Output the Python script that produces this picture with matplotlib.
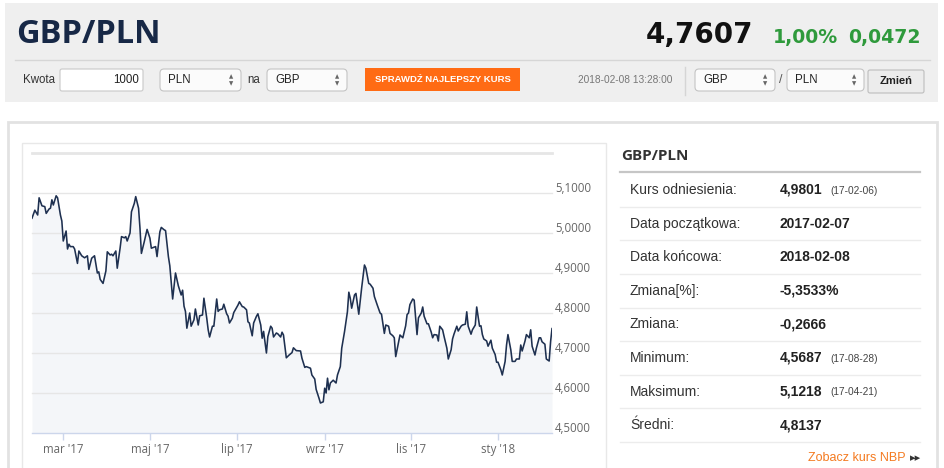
import numpy as np
import matplotlib
matplotlib.use("Agg")
import matplotlib.pyplot as plt
from matplotlib.patches import Rectangle, FancyBboxPatch
from matplotlib.transforms import ScaledTranslation

# ---------------- data ----------------
start_date = "2017-02-07"
end_date = "2018-02-08"
day_offsets = [
    0, 2, 4, 5, 7, 9, 10, 12, 13, 14, 15, 17, 18, 20, 21, 22, 24, 25, 26, 27,
    29, 30, 32, 33, 35, 37, 39, 40, 42, 44, 46, 47, 48, 50, 52, 53, 55, 56, 57, 59,
    60, 62, 63, 65, 66, 67, 69, 70, 72, 73, 75, 76, 77, 79, 81, 83, 84, 87, 88, 90,
    91, 93, 94, 96, 97, 99, 101, 103, 105, 106, 107, 108, 109, 111, 112, 114, 115, 117, 118, 120,
    121, 123, 124, 125, 127, 128, 130, 131, 132, 134, 135, 137, 138, 139, 141, 142, 144, 145, 146, 148,
    149, 151, 152, 153, 155, 156, 158, 159, 161, 162, 163, 165, 166, 168, 169, 170, 172, 173, 175, 176,
    177, 179, 181, 183, 184, 186, 189, 190, 192, 193, 196, 197, 199, 200, 202, 203, 205, 206, 207, 208,
    209, 210, 212, 214, 215, 217, 218, 220, 222, 223, 224, 225, 227, 228, 230, 232, 233, 234, 235, 237,
    238, 240, 241, 243, 245, 246, 248, 249, 251, 252, 254, 255, 256, 258, 259, 261, 263, 264, 265, 266,
    268, 269, 271, 272, 274, 275, 276, 278, 279, 281, 282, 283, 285, 286, 287, 289, 290, 292, 293, 295,
    296, 297, 299, 300, 302, 303, 305, 306, 307, 309, 310, 312, 313, 315, 316, 317, 318, 320, 321, 323,
    324, 326, 327, 328, 330, 331, 333, 334, 335, 337, 338, 340, 341, 343, 344, 345, 347, 348, 350, 351,
    352, 354, 355, 357, 358, 359, 361, 362, 364, 365, 366,
]
rates = [
    5.037, 5.057, 5.045, 5.088, 5.068, 5.066, 5.049, 5.060, 5.062, 5.083, 5.070, 5.093, 5.088, 5.045, 5.030, 4.980, 5.005, 4.960, 4.972, 4.966,
    4.966, 4.960, 4.924, 4.955, 4.943, 4.938, 4.943, 4.909, 4.937, 4.943, 4.900, 4.903, 4.884, 4.874, 4.905, 4.953, 4.945, 4.947, 4.943, 4.955,
    4.912, 4.962, 4.991, 4.988, 4.991, 4.980, 5.000, 5.053, 5.074, 5.091, 5.062, 5.012, 4.949, 4.978, 5.009, 4.987, 4.962, 4.966, 4.941, 5.003,
    5.014, 5.008, 5.006, 4.941, 4.918, 4.835, 4.900, 4.868, 4.845, 4.857, 4.817, 4.804, 4.762, 4.800, 4.767, 4.783, 4.810, 4.770, 4.793, 4.795,
    4.837, 4.787, 4.758, 4.740, 4.767, 4.767, 4.835, 4.804, 4.808, 4.810, 4.822, 4.798, 4.792, 4.775, 4.787, 4.801, 4.814, 4.820, 4.828, 4.816,
    4.815, 4.808, 4.778, 4.775, 4.743, 4.775, 4.792, 4.798, 4.770, 4.737, 4.754, 4.700, 4.741, 4.767, 4.762, 4.740, 4.750, 4.748, 4.740, 4.752,
    4.745, 4.688, 4.695, 4.701, 4.713, 4.706, 4.705, 4.687, 4.664, 4.666, 4.662, 4.645, 4.635, 4.609, 4.587, 4.575, 4.578, 4.612, 4.600, 4.637,
    4.608, 4.625, 4.632, 4.625, 4.645, 4.666, 4.712, 4.754, 4.803, 4.852, 4.837, 4.812, 4.845, 4.849, 4.797, 4.862, 4.891, 4.920, 4.912, 4.874,
    4.872, 4.862, 4.841, 4.820, 4.800, 4.797, 4.749, 4.770, 4.767, 4.749, 4.743, 4.738, 4.691, 4.727, 4.745, 4.738, 4.768, 4.796, 4.800, 4.821,
    4.835, 4.832, 4.746, 4.788, 4.800, 4.815, 4.792, 4.773, 4.773, 4.752, 4.738, 4.746, 4.745, 4.730, 4.767, 4.758, 4.742, 4.712, 4.685, 4.708,
    4.735, 4.747, 4.767, 4.755, 4.767, 4.770, 4.772, 4.803, 4.767, 4.747, 4.758, 4.770, 4.815, 4.767, 4.768, 4.746, 4.735, 4.730, 4.717, 4.732,
    4.712, 4.696, 4.677, 4.677, 4.658, 4.645, 4.679, 4.720, 4.746, 4.708, 4.679, 4.679, 4.685, 4.685, 4.720, 4.705, 4.730, 4.746, 4.738, 4.758,
    4.717, 4.695, 4.712, 4.738, 4.738, 4.728, 4.722, 4.685, 4.680, 4.728, 4.761,
]
x_tick_dates = ["2017-03-01", "2017-05-01", "2017-07-01", "2017-09-01", "2017-11-01", "2018-01-01"]
x_tick_labels = ["mar '17", "maj '17", "lip '17", "wrz '17", "lis '17", "sty '18"]
y_ticks = [4.5, 4.6, 4.7, 4.8, 4.9, 5.0, 5.1, 5.2]
y_tick_labels = ["4,5000", "4,6000", "4,7000", "4,8000", "4,9000", "5,0000", "5,1000", ""]

pair_name = "GBP/PLN"
last_rate = "4,7607"
change_pct = "1,00%"
change_abs = "0,0472"
amount = "1000"
from_currency = "PLN"
to_currency = "GBP"
timestamp = "2018-02-08 13:28:00"
base_currency = "GBP"
quote_currency = "PLN"

stat_labels = ["Kurs odniesienia:", "Data początkowa:", "Data końcowa:", "Zmiana[%]:",
               "Zmiana:", "Minimum:", "Maksimum:", "Średni:"]
stat_values = ["4,9801", "2017-02-07", "2018-02-08", "-5,3533%",
               "-0,2666", "4,5687", "5,1218", "4,8137"]
stat_dates = ["(17-02-06)", "", "", "", "", "(17-08-28)", "(17-04-21)", ""]

# ---------------- figure ----------------
W, H = 945, 468
fig = plt.figure(figsize=(W / 100, H / 100), dpi=100)
fig.patch.set_facecolor("white")

bg = fig.add_axes([0, 0, 1, 1], zorder=0)
bg.set_xlim(0, W)
bg.set_ylim(H, 0)
bg.axis("off")

SANS = ["Liberation Sans", "DejaVu Sans"]
OPEN = ["Open Sans", "DejaVu Sans"]

# header band
bg.add_patch(Rectangle((5, 3), 933, 99, fc="#efefef", ec="none"))
bg.plot([15, 930], [60, 60], color="#d6d6d6", lw=1)
bg.text(16, 43, pair_name, family=OPEN, weight="bold", fontsize=23.5,
        color="#172846", va="baseline", ha="left")
bg.text(646, 43, last_rate, family=["DejaVu Sans"], weight="bold", fontsize=20,
        color="#111111", va="baseline", ha="left")
bg.text(773, 43, change_pct, family=["DejaVu Sans"], weight="bold", fontsize=13.6,
        color="#2f9a3c", va="baseline", ha="left")
bg.text(848, 43, change_abs, family=["DejaVu Sans"], weight="bold", fontsize=13.6,
        color="#2f9a3c", va="baseline", ha="left")

# form row
bg.text(23, 80, "Kwota", family=SANS, fontsize=8.3, color="#333333", va="center")
bg.add_patch(FancyBboxPatch((60, 69), 83, 22, boxstyle="round,pad=0,rounding_size=2",
                            fc="white", ec="#c9c9c9", lw=0.8))
bg.text(139, 80, amount, family=SANS, fontsize=8.3, color="#222222", va="center", ha="right")


def select_box(x, w, label):
    bg.add_patch(FancyBboxPatch((x, 69), w, 22, boxstyle="round,pad=0,rounding_size=4",
                                fc="#fbfbfb", ec="#c4c4c4", lw=0.8))
    bg.text(x + 8, 80, label, family=SANS, fontsize=8.3, color="#222222", va="center")
    bg.text(x + w - 10, 77, "▲", family=["DejaVu Sans"], fontsize=4, color="#666666",
            va="center", ha="center")
    bg.text(x + w - 10, 83.5, "▼", family=["DejaVu Sans"], fontsize=4, color="#666666",
            va="center", ha="center")


select_box(160, 81, from_currency)
bg.text(247, 80, "na", family=SANS, fontsize=8.3, color="#333333", va="center")
select_box(267, 80, to_currency)
bg.add_patch(Rectangle((365, 68), 155, 23, fc="#ff6b14", ec="none"))
bg.text(442.5, 80, "SPRAWDŹ NAJLEPSZY KURS", family=SANS, weight="bold", fontsize=6.8,
        color="white", va="center", ha="center")
bg.text(578, 80, timestamp, family=SANS, fontsize=7.3, color="#777777", va="center")
bg.plot([685, 685], [67, 95], color="#d5d5d5", lw=1)
select_box(695, 80, base_currency)
bg.text(781, 80, "/", family=SANS, fontsize=9, color="#555555", va="center", ha="center")
select_box(787, 77, quote_currency)
bg.add_patch(FancyBboxPatch((868, 70), 56, 23, boxstyle="round,pad=0,rounding_size=2",
                            fc="#ececec", ec="#bdbdbd", lw=0.8))
bg.text(896, 81.5, "Zmień", family=SANS, weight="bold", fontsize=8, color="#222222",
        va="center", ha="center")

# main panel and chart box
bg.add_patch(Rectangle((8, 122), 929, 360, fc="white", ec="#e2e2e2", lw=2))
bg.add_patch(Rectangle((22, 143), 584, 340, fc="white", ec="#e8e8e8", lw=1))

# statistics table
bg.text(621, 156, pair_name, family=OPEN, weight="bold", fontsize=11, color="#333333",
        va="center", ha="left")
bg.plot([620, 920], [172, 172], color="#c6c6c6", lw=1.6)
row_h = 33.6
for i, (lab, val, dt) in enumerate(zip(stat_labels, stat_values, stat_dates)):
    cy = 190 + i * row_h
    bg.text(630, cy, lab, family=SANS, fontsize=10, color="#333333", va="center")
    bg.text(780, cy, val, family=SANS, weight="bold", fontsize=10, color="#222222", va="center")
    if dt:
        bg.text(830, cy + 0.5, dt, family=SANS, fontsize=7.3, color="#444444", va="center")
    bg.plot([620, 920], [cy + 16.8, cy + 16.8], color="#ececec", lw=1)
bg.text(906, 458, "Zobacz kurs NBP", family=SANS, fontsize=9, color="#f47a20",
        va="center", ha="right")
bg.text(910, 458.5, "▸▸", family=["DejaVu Sans"], fontsize=8, color="#333333",
        va="center", ha="left")

# ---------------- chart ----------------
ax = fig.add_axes([32 / W, 35 / H, 520 / W, 280 / H], zorder=2)
ax.set_facecolor("none")
dates = np.datetime64(start_date) + np.array(day_offsets).astype("timedelta64[D]")
ax.set_xlim(np.datetime64(start_date), np.datetime64(end_date))
ax.set_ylim(y_ticks[0], y_ticks[-1])

for v in y_ticks[1:]:
    ax.axhline(v, color="#e6e6e6", lw=2 if v == y_ticks[-1] else 1, zorder=1, clip_on=False)
ax.fill_between(dates, rates, y_ticks[0], color="#f4f6f9", lw=0, zorder=0.5)
ax.plot(dates, rates, color="#1e3050", lw=1.15, zorder=3)

for s in ["top", "left", "right"]:
    ax.spines[s].set_visible(False)
ax.spines["bottom"].set_color("#ccd6eb")
ax.spines["bottom"].set_linewidth(1)

ax.set_yticks([])
offset = ScaledTranslation(3 / 100, 5 / 100, fig.dpi_scale_trans)
for v, lab in zip(y_ticks, y_tick_labels):
    ax.text(1.0, v, lab, transform=ax.get_yaxis_transform() + offset, family=OPEN,
            fontsize=8.3, color="#666666", va="center", ha="left")

ax.set_xticks([np.datetime64(d) for d in x_tick_dates])
ax.set_xticklabels(x_tick_labels, family=OPEN, fontsize=8.3, color="#666666")
ax.tick_params(axis="x", length=5, width=1, color="#ccd6eb", pad=2.5)

fig.savefig("out.png", dpi=100, facecolor="white")
